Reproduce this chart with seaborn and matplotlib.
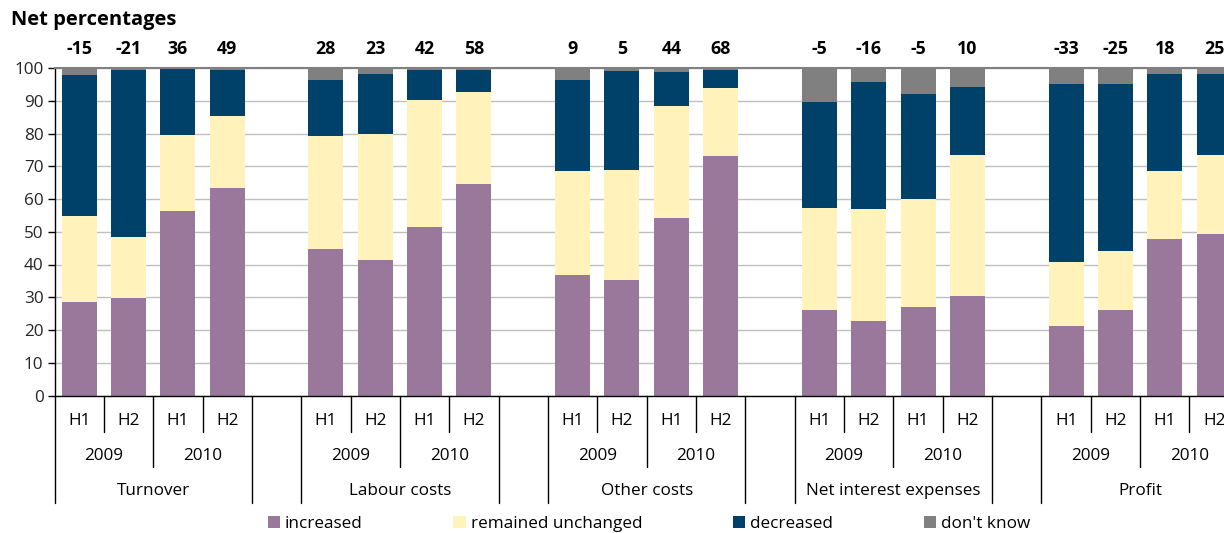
import numpy as np
import pandas as pd
import matplotlib
matplotlib.use("Agg")
import matplotlib.pyplot as plt
from matplotlib.patches import Patch
import seaborn as sns

# ---------------- data ----------------
categories = ["Turnover", "Labour costs", "Other costs", "Net interest expenses", "Profit"]
years = ["2009", "2010"]
halves = ["H1", "H2"]

increased = [28.4, 29.8, 56.2, 63.5,
             44.7, 41.5, 51.3, 64.6,
             36.7, 35.2, 54.1, 73.2,
             26.0, 22.9, 26.9, 30.5,
             21.1, 26.0, 47.7, 49.2]
unchanged = [26.3, 18.5, 23.2, 21.7,
             34.4, 38.5, 38.8, 28.0,
             31.7, 33.8, 34.2, 20.6,
             31.4, 33.9, 33.0, 42.8,
             19.8, 18.0, 20.7, 24.1]
decreased = [43.1, 51.1, 20.6, 14.2,
             17.1, 18.2, 9.3, 6.8,
             28.0, 30.0, 10.4, 5.6,
             32.1, 38.8, 32.1, 20.8,
             54.1, 51.0, 29.7, 24.8]
dont_know = [2.2, 0.6, 0.0, 0.6,
             3.8, 1.8, 0.6, 0.6,
             3.6, 1.0, 1.3, 0.6,
             10.5, 4.4, 8.0, 5.9,
             5.0, 5.0, 1.9, 1.9]
net_percentages = [-15, -21, 36, 49,
                   28, 23, 42, 58,
                   9, 5, 44, 68,
                   -5, -16, -5, 10,
                   -33, -25, 18, 25]

series_names = ["increased", "remained unchanged", "decreased", "don't know"]
series_colors = ["#9A789C", "#FFF2BB", "#00416A", "#808080"]

# ---------------- style ----------------
sns.set_theme(style="white")
plt.rcParams['font.family'] = ['Open Sans', 'DejaVu Sans']
plt.rcParams['text.color'] = 'black'

FS = 12.3

W, H = 1224, 533
fig = plt.figure(figsize=(W / 100, H / 100), dpi=100)
ax_left, ax_bottom_px, ax_top_px = 54.5, 395.5, 68.0
ax = fig.add_axes([ax_left / W, 1 - ax_bottom_px / H, 1 - ax_left / W,
                   (ax_bottom_px - ax_top_px) / H])

n_per_group = len(years) * len(halves)
slot = n_per_group + 1
positions = [g * slot + k for g in range(len(categories)) for k in range(n_per_group)]

values = np.array([increased, unchanged, decreased, dont_know])
cum = np.cumsum(values, axis=0)

for s in reversed(range(len(series_names))):
    d = pd.DataFrame({"pos": positions, "top": cum[s]})
    sns.barplot(data=d, x="pos", y="top", native_scale=True, width=0.71,
                color=series_colors[s], saturation=1, errorbar=None, ax=ax,
                linewidth=0, edgecolor="none", zorder=2)

ax.set_xlim(-0.5, 23.2)
ax.set_ylim(0, 100)
ax.set_yticks(range(0, 101, 10))
ax.set_xticks([])
ax.set_xlabel("")
ax.set_ylabel("")
ax.yaxis.grid(True, color="#C0C0C0", lw=1)
ax.set_axisbelow(True)
ax.spines["right"].set_visible(False)
ax.spines["top"].set_color("#808080")
ax.spines["top"].set_linewidth(1.5)
ax.spines["top"].set_zorder(3)
for sp in ("left", "bottom"):
    ax.spines[sp].set_color("black")
    ax.spines[sp].set_linewidth(1)
ax.tick_params(axis="y", direction="out", length=5, width=1, color="black",
               labelsize=FS, pad=3, left=True)

trans = ax.get_xaxis_transform()
hpx = ax_bottom_px - ax_top_px


def frac(p):
    return (ax_bottom_px - p) / hpx


# net percentage labels
for pos, lab in zip(positions, net_percentages):
    ax.text(pos, frac(49), f"{lab}", transform=trans, ha="center", va="center",
            fontweight="bold", fontsize=12.8, clip_on=False)

# multi-level category axis
for g, cat in enumerate(categories):
    base = g * slot
    for yi, yr in enumerate(years):
        for hi, hf in enumerate(halves):
            p = base + yi * len(halves) + hi
            ax.text(p, frac(421), hf, transform=trans, ha="center", va="center",
                    fontsize=FS, clip_on=False)
        ax.text(base + yi * len(halves) + (len(halves) - 1) / 2, frac(456), yr,
                transform=trans, ha="center", va="center", fontsize=FS, clip_on=False)
        # H1|H2 separator
        xs = base + yi * len(halves) + 0.5
        ax.plot([xs, xs], [0, frac(432)], transform=trans, color="black", lw=1,
                clip_on=False)
    # year separator
    xy = base + len(halves) - 0.5
    ax.plot([xy, xy], [0, frac(467)], transform=trans, color="black", lw=1, clip_on=False)
    # group boundaries
    for xg in (base - 0.5, base + n_per_group - 0.5):
        ax.plot([xg, xg], [0, frac(503)], transform=trans, color="black", lw=1,
                clip_on=False)
    ax.text(base + (n_per_group - 1) / 2, frac(491), cat, transform=trans,
            ha="center", va="center", fontsize=FS, clip_on=False)

# title
fig.text(11 / W, 1 - 20 / H, "Net percentages", fontweight="bold", fontsize=14.5,
         ha="left", va="center")

# legend
handles = [Patch(facecolor=c, edgecolor="none", label=n)
           for c, n in zip(series_colors, series_names)]
fig.legend(handles=handles, loc="center", bbox_to_anchor=(649 / W, 1 - 524 / H),
           ncol=4, frameon=False, fontsize=FS, handlelength=0.72, handleheight=0.72,
           handletextpad=0.3, columnspacing=5.3, borderpad=0, borderaxespad=0)

fig.savefig("out.png", dpi=100)
